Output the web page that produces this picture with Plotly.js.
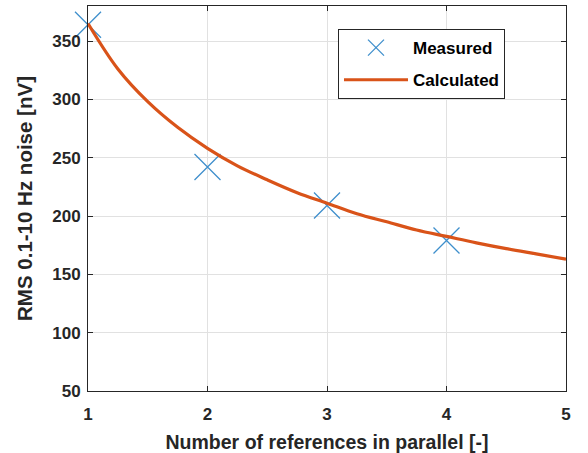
<!DOCTYPE html>
<html>
<head>
<meta charset="utf-8">
<script src="https://cdn.plot.ly/plotly-3.0.1.min.js"></script>
<style>html,body{margin:0;padding:0;background:#fff;}#chart{width:588px;height:453px;}</style>
</head>
<body>
<div id="chart"></div>
<script>
// Measured points
const measuredN = [1, 2, 3, 4];
const measuredNoise = [364, 242, 209, 179];
// Calculated curve
const calcN = [1, 1.25, 1.5, 1.75, 2, 2.25, 2.5, 2.75, 3, 3.25, 3.5, 3.75, 4, 4.25, 4.5, 4.75, 5];
const calcNoise = [365, 326, 298, 276, 258, 243, 231, 220, 211, 202, 195, 188, 182.5, 177, 172, 167.5, 163];
const xTicks = [1, 2, 3, 4, 5];
const yTicks = [50, 100, 150, 200, 250, 300, 350];

const fontFam = 'Liberation Sans, Arial, sans-serif';
const txt = '#262626';

const traces = [
  {
    x: measuredN, y: measuredNoise, type: 'scatter', mode: 'markers', name: 'Measured',
    legendgroup: 'a', cliponaxis: false,
    marker: {symbol: 'x-thin', size: 26, line: {color: '#3E8FCC', width: 1.3}, color: '#3E8FCC'}
  },
  {
    x: calcN, y: calcNoise, type: 'scatter', mode: 'lines', name: 'Calculated',
    legendgroup: 'b', cliponaxis: false,
    line: {color: '#D95319', width: 3.2, shape: 'spline'}
  }
];

const axisCommon = {
  showline: true, linecolor: '#262626', linewidth: 1, mirror: 'ticks',
  ticks: 'inside', ticklen: 5, tickcolor: '#262626',
  showgrid: true, gridcolor: '#e1e1e1', gridwidth: 1, zeroline: false,
  tickfont: {family: fontFam, size: 17, color: txt, weight: 'bold'}
};

const layout = {
  width: 588, height: 453,
  margin: {l: 88, r: 22, t: 6, b: 62},
  paper_bgcolor: '#fff', plot_bgcolor: '#fff',
  showlegend: true,
  xaxis: Object.assign({}, axisCommon, {
    range: [1, 5], tickvals: xTicks, ticktext: xTicks.map(String),
    ticklabelstandoff: 8,
    title: {text: 'Number of references in parallel [-]', font: {family: fontFam, size: 19.5, color: txt, weight: 'bold'}}
  }),
  yaxis: Object.assign({}, axisCommon, {
    range: [50, 380], tickvals: yTicks, ticktext: yTicks.map(String),
    ticklabelstandoff: 3, automargin: true,
    title: {text: 'RMS 0.1-10 Hz noise [nV]', standoff: 14, font: {family: fontFam, size: 20.5, color: txt, weight: 'bold'}}
  }),
  legend: {
    x: 0.523, y: 0.94, xanchor: 'left', yanchor: 'top',
    bgcolor: '#fff', bordercolor: '#262626', borderwidth: 1,
    font: {family: fontFam, size: 17, color: '#000', weight: 'bold'},
    traceorder: 'grouped', tracegroupgap: 7, itemwidth: 64
  }
};

Plotly.newPlot('chart', traces, layout, {displayModeBar: false, staticPlot: true});
</script>
</body>
</html>
